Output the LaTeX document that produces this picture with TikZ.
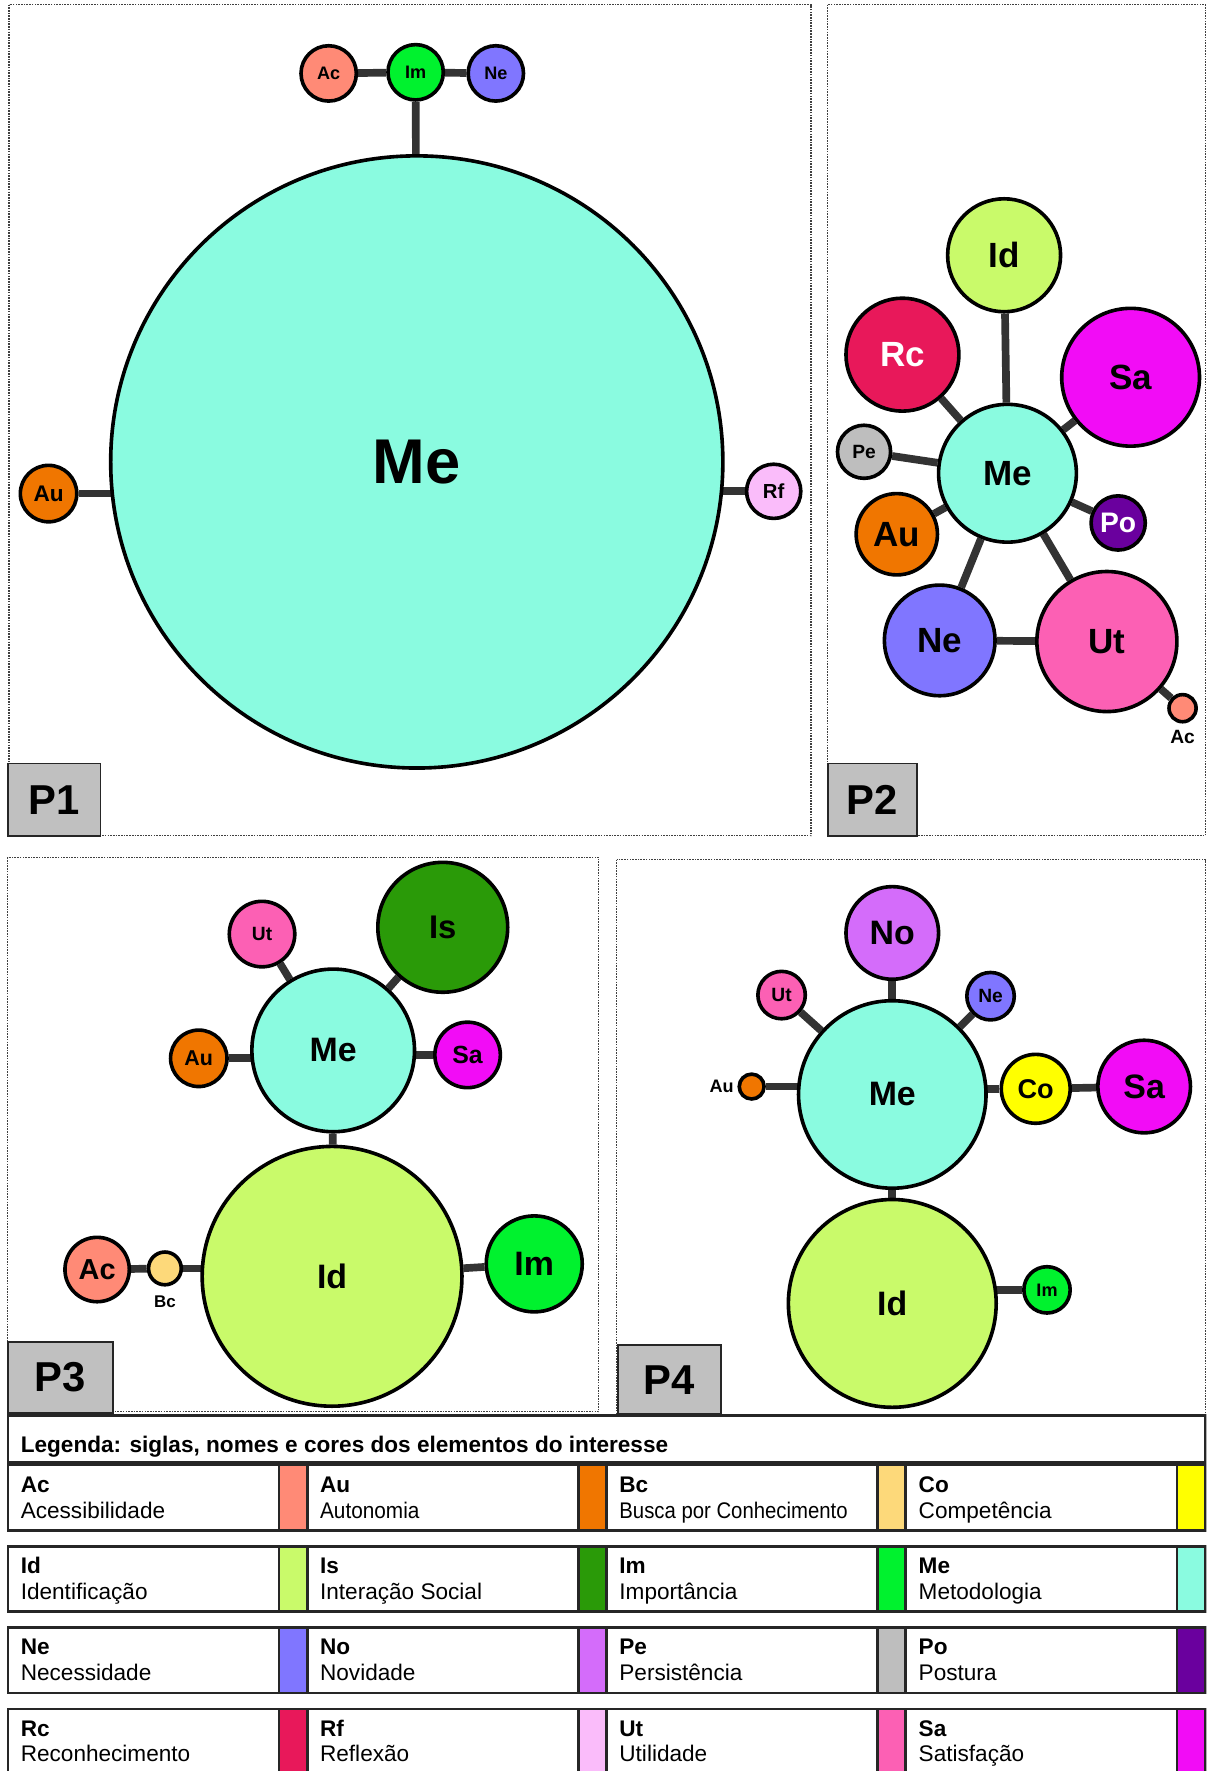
\documentclass[tikz,border=0pt]{standalone}
\usepackage{fontspec}
\setmainfont{Liberation Sans}
\usetikzlibrary{positioning, backgrounds}

\definecolor{cAc}{RGB}{255,138,118}
\definecolor{cAu}{RGB}{240,118,0}
\definecolor{cBc}{RGB}{253,217,122}
\definecolor{cCo}{RGB}{255,255,0}
\definecolor{cId}{RGB}{201,250,106}
\definecolor{cIs}{RGB}{42,154,8}
\definecolor{cIm}{RGB}{0,242,46}
\definecolor{cMe}{RGB}{138,251,224}
\definecolor{cNe}{RGB}{128,118,255}
\definecolor{cNo}{RGB}{212,108,250}
\definecolor{cPe}{RGB}{190,190,190}
\definecolor{cPo}{RGB}{106,0,158}
\definecolor{cRc}{RGB}{232,24,90}
\definecolor{cRf}{RGB}{250,188,250}
\definecolor{cUt}{RGB}{252,96,180}
\definecolor{cSa}{RGB}{242,12,246}
\definecolor{linkgray}{RGB}{51,51,51}
\definecolor{taggray}{RGB}{192,192,192}

\begin{document}
\begin{tikzpicture}[
    x=0.5pt, y=-0.5pt,
    bubble/.style={circle, draw=black, line width=1.6pt, inner sep=0pt, text=black},
    rad/.style={minimum size=#1pt},
    fsz/.style={font=\bfseries\fontsize{#1}{#1}\selectfont},
    link/.style={draw=linkgray, line width=3.4pt},
    panel/.style={draw=black!75, line width=0.5pt, dash pattern=on 0.7pt off 0.5pt},
    tag/.style={draw=black!85, fill=taggray, line width=0.8pt, inner sep=0pt,
        font=\bfseries\fontsize{18.5}{18.5}\selectfont},
    cell/.style={draw=black!85, line width=1.2pt},
    side/.style={inner sep=0pt, font=\bfseries\fontsize{8}{8}\selectfont}
]
\useasboundingbox (0,0) rectangle (1068,1568);
\clip (0,0) rectangle (1068,1568);

%% Panel frames
\draw[panel] (8,4) rectangle (718,740);
\draw[panel] (733,4) rectangle (1067,740);
\draw[panel] (7,759) rectangle (530,1250);
\draw[panel] (546,761) rectangle (1067,1252);

%% P1
\node (p1me) [bubble, rad=271, fill=cMe, fsz=28] at (369,409) {Me};
\node (p1im) [bubble, rad=24.5, fill=cIm, fsz=8] at (368,64) {Im};
\node (p1ac) [bubble, rad=24.5, fill=cAc, fsz=8] at (291,65) {Ac};
\node (p1ne) [bubble, rad=24.5, fill=cNe, fsz=8] at (439,65) {Ne};
\node (p1au) [bubble, rad=25, fill=cAu, fsz=10] at (43,437) {Au};
\node (p1rf) [bubble, rad=24, fill=cRf, fsz=9] at (685,435) {Rf};

%% P2
\node (p2id) [bubble, rad=50, fill=cId, fsz=15.5] at (889,226) {Id};
\node (p2rc) [bubble, rad=50, fill=cRc, fsz=15.5, text=white] at (799,314) {Rc};
\node (p2sa) [bubble, rad=61, fill=cSa, fsz=15.5] at (1001,334) {Sa};
\node (p2pe) [bubble, rad=23.5, fill=cPe, fsz=8.5] at (765,400) {Pe};
\node (p2me) [bubble, rad=61, fill=cMe, fsz=15.5] at (892,419) {Me};
\node (p2po) [bubble, rad=24, fill=cPo, fsz=12.5, text=white] at (990,463) {Po};
\node (p2au) [bubble, rad=36, fill=cAu, fsz=15.5] at (794,473) {Au};
\node (p2ne) [bubble, rad=49, fill=cNe, fsz=15.5] at (832,567) {Ne};
\node (p2ut) [bubble, rad=62, fill=cUt, fsz=15.5] at (980,568) {Ut};
\node (p2ac) [bubble, rad=12, fill=cAc] at (1047,627) {};
\node (p2acl) [side, below=3pt of p2ac, fsz=8.5] {Ac};

%% P3
\node (p3ut) [bubble, rad=29, fill=cUt, fsz=8.5] at (232,827) {Ut};
\node (p3is) [bubble, rad=57.5, fill=cIs, fsz=14.5] at (392,821) {Is};
\node (p3me) [bubble, rad=72, fill=cMe, fsz=15] at (295,930) {Me};
\node (p3au) [bubble, rad=25, fill=cAu, fsz=9.5] at (176,937) {Au};
\node (p3sa) [bubble, rad=29, fill=cSa, fsz=11] at (414,934) {Sa};
\node (p3id) [bubble, rad=115, fill=cId, fsz=15] at (294,1130) {Id};
\node (p3im) [bubble, rad=42.5, fill=cIm, fsz=15] at (473,1119) {Im};
\node (p3ac) [bubble, rad=28.5, fill=cAc, fsz=12.8] at (86,1124) {Ac};
\node (p3bc) [bubble, rad=14.5, fill=cBc] at (146,1123) {};
\node (p3bcl) [side, below=4pt of p3bc, fsz=7.5] {Bc};

%% P4
\node (p4no) [bubble, rad=41, fill=cNo, fsz=15] at (790,826) {No};
\node (p4ut) [bubble, rad=21, fill=cUt, fsz=8.5] at (692,881) {Ut};
\node (p4ne) [bubble, rad=21, fill=cNe, fsz=8.5] at (877,882) {Ne};
\node (p4me) [bubble, rad=83, fill=cMe, fsz=15] at (790,969) {Me};
\node (p4au) [bubble, rad=11, fill=cAu] at (665.5,962) {};
\node (p4aul) [side, left=1.5pt of p4au] {Au};
\node (p4co) [bubble, rad=30.5, fill=cCo, fsz=12] at (917,964) {Co};
\node (p4sa) [bubble, rad=41, fill=cSa, fsz=15] at (1013,962) {Sa};
\node (p4id) [bubble, rad=92, fill=cId, fsz=15] at (790,1154) {Id};
\node (p4im) [bubble, rad=20.5, fill=cIm, fsz=8] at (927,1142) {Im};

%% Links
\begin{pgfonlayer}{background}
\draw[link] (p1ac) -- (p1im);
\draw[link] (p1im) -- (p1ne);
\draw[link] (p1im) -- (p1me);
\draw[link] (p1au) -- (p1au -| p1me);
\draw[link] (p1rf) -- (p1rf -| p1me);

\draw[link] (p2id) -- (p2me);
\draw[link] (p2rc) -- (p2me);
\draw[link] (p2sa) -- (p2me);
\draw[link] (p2pe) -- (p2me);
\draw[link] (p2au) -- (p2me);
\draw[link] (p2po) -- (p2me);
\draw[link] (p2me) -- (p2ne);
\draw[link] (p2me) -- (p2ut);
\draw[link] (p2ne) -- (p2ut);
\draw[link] (p2ut) -- (p2ac);

\draw[link] (p3ut) -- (p3me);
\draw[link] (p3is) -- (p3me);
\draw[link] (p3au) -- (p3au -| p3me);
\draw[link] (p3sa) -- (p3sa -| p3me);
\draw[link] (p3me) -- (p3id);
\draw[link] (p3ac) -- (p3bc);
\draw[link] (p3bc) -- (p3bc -| p3id);
\draw[link] (p3id) -- (p3im);

\draw[link] (p4no) -- (p4me);
\draw[link] (p4ut) -- (p4me);
\draw[link] (p4ne) -- (p4me);
\draw[link] (p4au) -- (p4au -| p4me);
\draw[link] (p4co) -- (p4co -| p4me);
\draw[link] (p4co) -- (p4sa);
\draw[link] (p4me) -- (p4id);
\draw[link] (p4im) -- (p4im -| p4id);
\end{pgfonlayer}

%% Panel tags
\node (tag1) [tag, minimum width=41pt, minimum height=32pt] at (48,708) {P1};
\node (tag2) [tag, minimum width=39.5pt, minimum height=32pt] at (772.5,708) {P2};
\node (tag3) [tag, minimum width=46.5pt, minimum height=31.5pt] at (53.5,1219.5) {P3};
\node (tag4) [tag, minimum width=45.5pt, minimum height=30.5pt] at (592.5,1221.5) {P4};

%% Legend
\draw[cell] (7,1253) rectangle (1067,1295);
\node (legtitle) [anchor=base west, inner sep=0pt, font=\bfseries\fontsize{10}{10}\selectfont]
    at (18,1286) {Legenda: siglas, nomes e cores dos elementos do interesse};

\foreach \c/\r/\sg/\nm/\sx in {0/0/Ac/Acessibilidade/1, 1/0/Au/Autonomia/0.92,
        2/0/Bc/Busca por Conhecimento/0.9, 3/0/Co/Competência/1,
        0/1/Id/Identificação/1, 1/1/Is/Interação Social/1,
        2/1/Im/Importância/1, 3/1/Me/Metodologia/1,
        0/2/Ne/Necessidade/1, 1/2/No/Novidade/1,
        2/2/Pe/Persistência/1, 3/2/Po/Postura/1,
        0/3/Rc/Reconhecimento/1, 1/3/Rf/Reflexão/1,
        2/3/Ut/Utilidade/1, 3/3/Sa/Satisfação/1} {
    \draw[cell] ({7+265*\c},{1297+72*\r}) rectangle ++(240,58);
    \draw[cell, fill=c\sg] ({247+265*\c},{1297+72*\r}) rectangle ++(25,58);
    \node (sg\sg) [anchor=base west, inner sep=0pt, font=\bfseries\fontsize{10}{10}\selectfont]
        at ({18+265*\c},{1321+72*\r}) {\sg};
    \node (nm\sg) [anchor=base west, inner sep=0pt, font=\fontsize{10}{10}\selectfont]
        at ({18+265*\c},{1344+72*\r}) {\scalebox{\sx}[1]{\nm}};
}

\end{tikzpicture}
\end{document}
